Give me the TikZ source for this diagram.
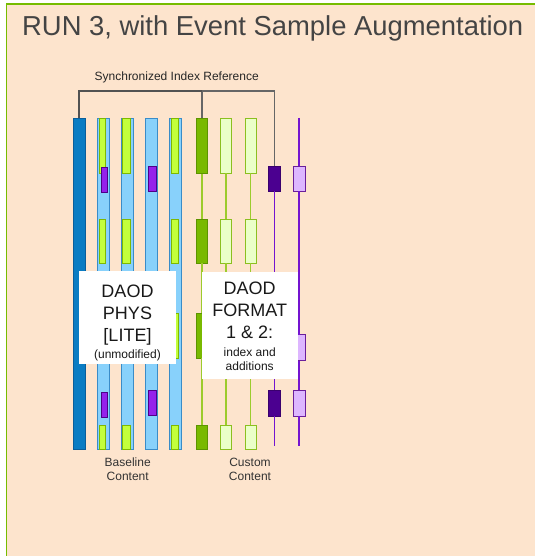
\documentclass[tikz,border=0pt]{standalone}
\usepackage{fontspec}
\setmainfont{Liberation Sans}
\definecolor{peach}{HTML}{FDE4CD}
\definecolor{framegreen}{HTML}{76BC00}
\definecolor{titlegray}{HTML}{444444}
\definecolor{idxblue}{HTML}{0A7CC3}
\definecolor{idxedge}{HTML}{0A5E9A}
\definecolor{colblue}{HTML}{88D1FB}
\definecolor{coledge}{HTML}{3A8CC8}
\definecolor{limefill}{HTML}{C3FF3C}
\definecolor{limeedge}{HTML}{7FB800}
\definecolor{violetfill}{HTML}{9521EB}
\definecolor{violetedge}{HTML}{4F0088}
\definecolor{dgfill}{HTML}{79B900}
\definecolor{dgedge}{HTML}{5C9400}
\definecolor{lgfill}{HTML}{EAFFC8}
\definecolor{lgedge}{HTML}{8BBF20}
\definecolor{dpfill}{HTML}{4B0090}
\definecolor{dpedge}{HTML}{3A006E}
\definecolor{lpfill}{HTML}{DDB6FF}
\definecolor{lpedge}{HTML}{6A1E9A}
\definecolor{glinecol}{HTML}{9CCB2C}
\definecolor{plinecol}{HTML}{7414D0}

% rectangle node from its corners: style, name, x1, y1, x2, y2
\newcommand\rbox[6]{%
  \pgfmathsetmacro\rbw{#5-#3}\pgfmathsetmacro\rbh{#6-#4}%
  \node[#1,minimum width=\rbw pt,minimum height=\rbh pt] (#2) at ({(#3+#5)/2},{(#4+#6)/2}) {};}
\newcommand\smalltxt{\fontsize{12}{14}\selectfont}

\tikzset{
  anybox/.style={rectangle,inner sep=0pt,outer sep=0pt,line width=0.7pt},
  idxbar/.style={anybox,fill=idxblue,draw=idxedge},
  colbar/.style={anybox,fill=colblue,draw=coledge,line width=0.5pt},
  limebox/.style={anybox,fill=limefill,draw=limeedge},
  violetbox/.style={anybox,fill=violetfill,draw=violetedge},
  dgbox/.style={anybox,fill=dgfill,draw=dgedge},
  lgbox/.style={anybox,fill=lgfill,draw=lgedge,line width=0.9pt},
  dpbox/.style={anybox,fill=dpfill,draw=dpedge},
  lpbox/.style={anybox,fill=lpfill,draw=lpedge,line width=0.9pt},
  gline/.style={draw=glinecol,line width=1.3pt},
  pline/.style={draw=plinecol,line width=1.2pt},
  brkmain/.style={draw=black!68,line width=2pt},
  brkside/.style={draw=black!60,line width=1.6pt},
  labelbox/.style={rectangle,fill=white,inner sep=0pt,align=center,text=black!90,
    font=\fontsize{18}{22}\selectfont},
  caption/.style={inner sep=0pt,align=center,text=black!80,font=\fontsize{12}{14}\selectfont},
}

\begin{document}
\begin{tikzpicture}[x=1pt,y=-1pt]
\useasboundingbox (0,0) rectangle (535,556);
\fill[white] (0,0) rectangle (535,556);
\fill[peach] (6.5,4) rectangle (535,556);
\draw[framegreen,line width=1.5pt] (6.5,556) -- (6.5,4) -- (535,4);

\node[anchor=base west,inner sep=0pt,text=titlegray,font=\fontsize{27.4}{32}\selectfont]
  (title) at (22,35.7) {RUN 3, with Event Sample Augmentation};

% baseline content: index bar and four columns
\rbox{idxbar}{idx}{73.3}{118}{85.3}{449}
\rbox{colbar}{c1}{97.3}{118}{109}{449}
\rbox{colbar}{c2}{121.3}{118}{133}{449}
\rbox{colbar}{c3}{145.3}{118}{157}{449}
\rbox{colbar}{c4}{169.3}{118}{181}{449}

\rbox{limebox}{c1a}{99}{118}{105.7}{173}
\rbox{limebox}{c1b}{99}{219}{105.7}{263}
\rbox{limebox}{c1d}{99}{425}{105.7}{449}
\rbox{limebox}{c2a}{122.7}{118}{130}{173}
\rbox{limebox}{c2b}{122.7}{219}{130}{263}
\rbox{limebox}{c2d}{122.7}{425}{130}{449}
\rbox{limebox}{c4a}{171}{118}{178.3}{173}
\rbox{limebox}{c4b}{171}{219}{178.3}{263}
\rbox{limebox}{c4c}{171}{313}{178.3}{358}
\rbox{limebox}{c4d}{171}{425}{178.3}{449}

\rbox{violetbox}{c1v1}{101}{167.7}{107.7}{192.7}
\rbox{violetbox}{c1v2}{101}{392.3}{107.7}{417.3}
\rbox{violetbox}{c3v1}{148.3}{166}{156}{191.3}
\rbox{violetbox}{c3v2}{148.3}{390.7}{156}{415.7}

% custom content: green chains
\rbox{dgbox}{dg1}{196.3}{118}{207.7}{173.7}
\rbox{dgbox}{dg2}{196.3}{219}{207.7}{263}
\rbox{dgbox}{dg3}{196.3}{313}{207.7}{358}
\rbox{dgbox}{dg4}{196.3}{425}{207.7}{449}
\rbox{lgbox}{la1}{220.3}{118}{231.7}{173}
\rbox{lgbox}{la2}{220.3}{219}{231.7}{263}
\rbox{lgbox}{la4}{220.3}{425}{231.7}{449}
\rbox{lgbox}{lb1}{245}{118}{256.3}{173}
\rbox{lgbox}{lb2}{245}{219}{256.3}{263}
\rbox{lgbox}{lb4}{245}{425}{256.3}{449}

\draw[gline] (dg1) -- (dg2); \draw[gline] (dg2) -- (dg3); \draw[gline] (dg3) -- (dg4);
\draw[gline] (la1) -- (la2); \draw[gline] (la2) -- (la4);
\draw[gline] (lb1) -- (lb2); \draw[gline] (lb2) -- (lb4);

% custom content: purple chains
\coordinate (dpend) at (274.3,446);
\coordinate (lptop) at (299,118);
\coordinate (lpend) at (299,446);
\rbox{dpbox}{dp1}{268.3}{166}{280.3}{191.3}
\rbox{dpbox}{dp2}{268.3}{390.3}{280.3}{416}
\rbox{lpbox}{lp1}{293}{166}{305}{191.3}
\rbox{lpbox}{lp2}{293}{334.7}{305}{360.7}
\rbox{lpbox}{lp3}{293}{390.3}{305}{416.3}

\draw[pline] (dp1) -- (dp2); \draw[pline] (dp2) -- (dpend);
\draw[pline] (lptop) -- (lp1); \draw[pline] (lp1) -- (lp2);
\draw[pline] (lp2) -- (lp3); \draw[pline] (lp3) -- (lpend);

% synchronized index bracket
\coordinate (brk) at (79.3,91.3);
\draw[brkside] (dg1.north |- brk) -- (dg1.north);
\draw[brkside] (dg1.north |- brk) -| (dp1.north);
\draw[brkmain] (idx.north) -- (brk) -- (dg1.north |- brk);
\node[inner sep=0pt,text=black!85,font=\fontsize{12}{14}\selectfont]
  (brklabel) at (176.7,77.3) {Synchronized Index Reference};

% format labels
\node[labelbox,minimum width=96.4pt,minimum height=92.7pt] (phys) at (127.5,317.35)
  {\rule{0pt}{24pt}DAOD\\PHYS\\{[LITE]}\\[-5pt]\smalltxt (unmodified)};
\node[labelbox,minimum width=96pt,minimum height=107pt] (fmt) at (249.7,325.8)
  {DAOD\\FORMAT\\1 \& 2:\\[-4pt]\smalltxt index and\\[-8pt]\smalltxt additions};

\node[caption] (base) at (127.7,469) {Baseline\\Content};
\node[caption] (cust) at (250,469.5) {Custom\\Content};
\end{tikzpicture}
\end{document}
